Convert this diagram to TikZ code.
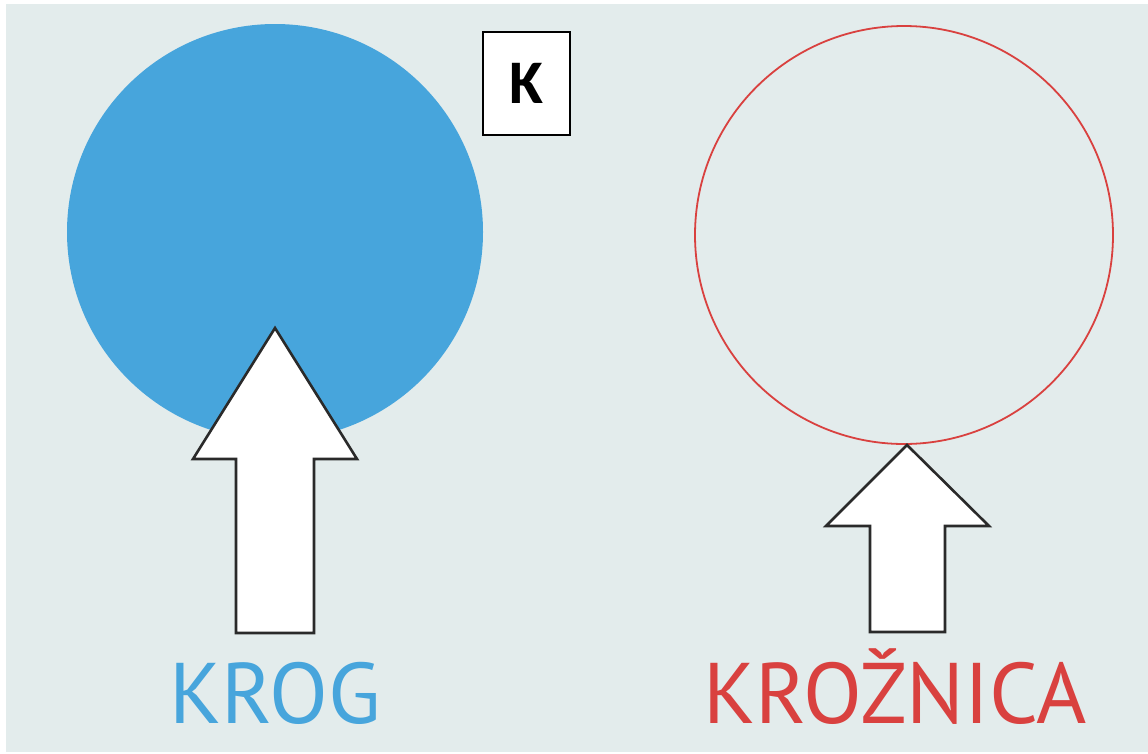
\documentclass[tikz,border=0pt]{standalone}
\usepackage{fontspec}
\setmainfont{PT Sans}
\newfontfamily\boxfont{Carlito}
\definecolor{bg}{HTML}{E3ECEC}
\definecolor{krogblue}{HTML}{47A5DC}
\definecolor{krogred}{HTML}{D9413F}
\definecolor{arrowline}{HTML}{2A2A2A}
\tikzset{
  bigarrow/.style={fill=white, draw=arrowline, line width=2.6pt, line join=miter},
  label/.style={inner sep=0pt, anchor=base},
}
\begin{document}
\begin{tikzpicture}[x=1pt,y=-1pt]
\useasboundingbox (0,0) rectangle (1148,753);
\fill[white] (0,0) rectangle (1148,753);
\fill[bg] (6,4) rectangle (1148,752);
% filled circle (krog)
\fill[krogblue] (275,232) circle (208);
% outline circle (kroznica)
\draw[krogred, line width=1.8pt] (904,235) circle (209);
% arrows
\draw[bigarrow] (275,328) -- (357,459) -- (314,459) -- (314,633) -- (236,633) -- (236,459) -- (193,459) -- cycle;
\draw[bigarrow] (907,445) -- (989,526) -- (945,526) -- (945,632) -- (870,632) -- (870,526) -- (826,526) -- cycle;
% K box
\node[draw=black, line width=1.3pt, fill=white, minimum width=87pt, minimum height=103pt, inner sep=0pt] (kbox) at (526.5,83.5) {};
\node[inner sep=0pt] (k) at (kbox.center) {\boxfont\bfseries\fontsize{62}{62}\selectfont K};
% labels
\node[label, text=krogblue] (krog) at (275,723) {\fontsize{86}{86}\selectfont KROG};
\node[label, text=krogred] (kroznica) at (895,723) {\fontsize{86}{86}\selectfont KROŽNICA};
\end{tikzpicture}
\end{document}
